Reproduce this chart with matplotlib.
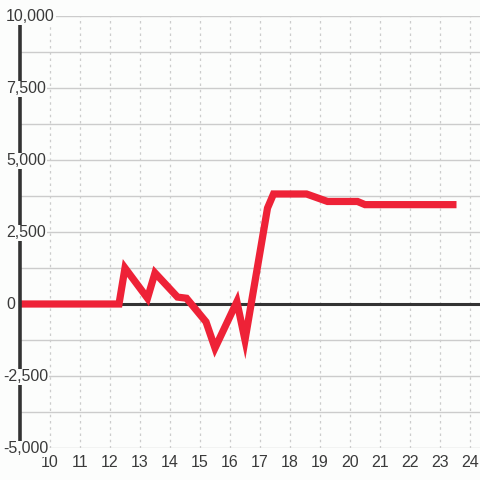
import matplotlib
matplotlib.use("Agg")
import matplotlib.pyplot as plt
import numpy as np

plt.rcParams['font.family'] = ['Liberation Sans', 'DejaVu Sans']

# hour of day vs value
hours = [9.0, 12.3, 12.5, 13.25, 13.5, 14.25, 14.55, 15.2, 15.5, 16.23, 16.5,
         17.0, 17.25, 17.45, 18.55, 19.25, 20.25, 20.5, 23.55]
values = [0, 0, 1250, 200, 1080, 240, 200, -620, -1530, 80, -1250,
          1800, 3330, 3820, 3820, 3560, 3560, 3450, 3450]

x_ticks = list(range(10, 25))
y_ticks = [-5000, -2500, 0, 2500, 5000, 7500, 10000]
y_minor = [-3750, -1250, 1250, 3750, 6250, 8750]

bg = '#fcfdfc'
dark = '#333333'
txt = '#3a3a3a'

fig = plt.figure(figsize=(4.8, 4.8), dpi=100, facecolor=bg)
ax = fig.add_axes([20 / 480, 32 / 480, 460 / 480, 432 / 480], facecolor=bg)

ax.set_xlim(9, 9 + 460 / 30)
ax.set_ylim(-5000, 10000)

for v in y_ticks + y_minor:
    ax.axhline(v, color='#cccccc', lw=1, zorder=1)
for t in x_ticks:
    ax.axvline(t, color='#cccccc', lw=0.9, ls=(0, (2, 3)), zorder=1)

ax.axhline(0, color=dark, lw=2.2, zorder=2)
ax.plot(hours, values, color='#ee2237', lw=5.2, solid_joinstyle='miter',
        solid_capstyle='butt', zorder=3)

for s in ['top', 'right', 'bottom']:
    ax.spines[s].set_visible(False)
ax.spines['left'].set_color(dark)
ax.spines['left'].set_linewidth(2.6)
ax.spines['left'].set_zorder(4)

ax.set_xticks(x_ticks)
ax.set_xticklabels([str(t) for t in x_ticks])
ax.set_yticks([])
ax.tick_params(axis='x', length=0, pad=5, labelsize=11.5, labelcolor=txt)

for v in y_ticks:
    ax.text(-14 / 460 if v >= 0 else -17 / 460, (v + 5000) / 15000 - 0.002, f'{v:,}',
            transform=ax.transAxes, ha='left', va='center', fontsize=11.5,
            color=txt, zorder=10, clip_on=False,
            bbox=dict(boxstyle='square,pad=0.05', fc=bg, ec='none'))

fig.savefig('out.png', dpi=100, facecolor=bg)
